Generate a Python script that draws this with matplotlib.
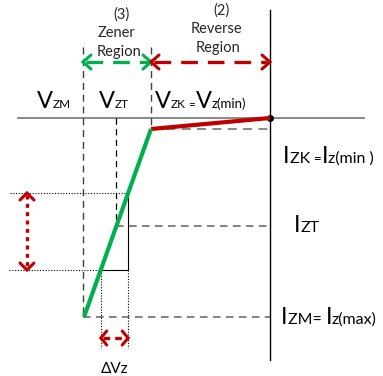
import numpy as np
import matplotlib
matplotlib.use("Agg")
import matplotlib.pyplot as plt

# Zener diode reverse characteristic (sketch units: V to the left, I downward)
v_zm = -187   # V_ZM, maximum zener voltage
v_zt = -154   # V_ZT, test voltage
v_zk = -119   # V_ZK = V_z(min), knee voltage
i_zk = -11    # I_ZK = I_z(min)
i_zt = -108   # I_ZT
i_zm = -199   # I_ZM = I_z(max)

# reverse (leakage) region and zener breakdown region of the curve
rev_v = [0, v_zk]
rev_i = [0, i_zk]
zen_v = [v_zk, v_zm + 1]
zen_i = [i_zk, i_zm]

# current step used for the dynamic resistance triangle
di_hi = -75
di_lo = -152

FONT = ["Lato", "DejaVu Sans"]
GREEN = "#00B050"
RED = "#C00000"
GREY = "#7F7F7F"

fig = plt.figure(figsize=(3.83, 3.76), dpi=100)
ax = fig.add_axes([0, 0, 1, 1])
ax.set_xlim(-270, 113)
ax.set_ylim(-258, 118)
ax.axis("off")


def chevron(x, y, dx, dy, color, lw=2.2):
    # open arrow head with tip at (x, y); (dx, dy) points back along the shaft
    if dx != 0:
        ax.plot([x + dx, x, x + dx], [y + 7, y, y - 7], color=color, lw=lw,
                solid_capstyle="round", solid_joinstyle="miter")
    else:
        ax.plot([x - 7, x, x + 7], [y + dy, y, y + dy], color=color, lw=lw,
                solid_capstyle="round", solid_joinstyle="miter")


def label(x, y, parts):
    # text run of mixed sizes on one baseline
    r = fig.canvas.get_renderer()
    for s, size in parts:
        t = ax.text(x, y, s, fontsize=size, ha="left", va="baseline", family=FONT)
        x += t.get_window_extent(renderer=r).width


# axes
ax.plot([-252, 94], [0, 0], color=GREY, lw=1.3)
ax.plot([0, 0], [108, -242], color="black", lw=1.0)
ax.plot([0], [0], "o", color="black", ms=4)

# guide lines
dash = (0, (5, 3.5))
ax.plot([v_zm, v_zm], [71, i_zm], color="#404040", lw=1.0, linestyle=dash)
ax.plot([v_zk, v_zk], [71, i_zk], color="#404040", lw=1.0, linestyle=dash)
ax.plot([v_zt, v_zt], [0, i_zt], color="black", lw=0.9, linestyle=dash)
ax.plot([v_zk, 0], [i_zk, i_zk], color=GREY, lw=1.3, linestyle=dash)
ax.plot([v_zt, 0], [i_zt, i_zt], color="#606060", lw=1.1, linestyle=dash)
ax.plot([v_zm, 0], [i_zm, i_zm], color="#606060", lw=1.1, linestyle=dash)

# dynamic resistance triangle
dv_hi = np.interp(di_hi, zen_i[::-1], zen_v[::-1])
dv_lo = np.interp(di_lo, zen_i[::-1], zen_v[::-1])
dot = (0, (1, 1.5))
ax.plot([-260, dv_hi], [di_hi, di_hi], color="black", lw=0.8, linestyle=dot)
ax.plot([-261, dv_lo], [di_lo, di_lo], color="black", lw=0.8, linestyle=dot)
ax.plot([dv_lo, dv_hi, dv_hi], [di_lo, di_lo, di_hi], color="black", lw=0.8)
ax.plot([dv_lo, dv_lo], [di_lo, -230], color="black", lw=0.8, linestyle=dot)
ax.plot([dv_hi, dv_hi], [di_lo, -230], color="black", lw=0.8, linestyle=dot)

# characteristic curve
ax.plot(rev_v, rev_i, color=RED, lw=3.0, solid_capstyle="butt")
ax.plot(zen_v, zen_i, color=GREEN, lw=3.0, solid_capstyle="butt")

# delta I arrow
ax.plot([-243, -243], [di_hi - 2, di_lo + 2], color=RED, lw=2.4, linestyle=(0, (1.2, 1.3)))
chevron(-243, di_hi, 0, -7, RED)
chevron(-243, di_lo, 0, 7, RED)

# delta V arrow
ay = -220
ax.plot([dv_lo + 2, dv_hi - 2], [ay, ay], color=RED, lw=2.4, linestyle=(0, (2, 1.5)))
chevron(dv_lo, ay, 6, 0, RED)
chevron(dv_hi, ay, -6, 0, RED)

# region arrows
ry = 56
ax.plot([v_zm + 3, v_zk - 3], [ry, ry], color=GREEN, lw=2.4, linestyle=(0, (5, 3)))
chevron(v_zm, ry, 8, 0, GREEN)
chevron(v_zk, ry, -8, 0, GREEN)
ax.plot([v_zk + 3, -3], [ry, ry], color=RED, lw=2.4, linestyle=(0, (5, 3)))
chevron(v_zk, ry, 8, 0, RED)
chevron(0, ry, -8, 0, RED)

# region captions
for txt, x, y in [("(3)", -149, 103), ("Zener", -153, 85), ("Region", -151, 66),
                  ("(2)", -49, 107), ("Reverse", -54, 89), ("Region", -52, 70)]:
    ax.text(x, y, txt, fontsize=10.5, ha="center", va="center", family=FONT, color="#262626")

# voltage labels
label(-233, 9.7, [("V", 17), ("ZM", 8.5)])
label(-171, 9.7, [("V", 17), ("ZT", 8.5)])
label(-115, 9.7, [("V", 17), ("ZK", 8.5), (" =", 8.5), ("V", 17), ("z(min)", 9.5)])

# current labels
label(13, -45, [("I", 17), ("ZK ", 11.5), ("=", 9.5), ("I", 17), ("z(min )", 11.5)])
label(24, -114, [("I", 17), ("ZT", 11.5)])
label(11, -206, [("I", 17), ("ZM= ", 11.5), ("I", 17), ("z(max)", 11.5)])

# delta V label
ax.text(-155, -251, "\u0394Vz", fontsize=11, ha="center", va="center", family=FONT)

fig.savefig("out.png", dpi=100)
